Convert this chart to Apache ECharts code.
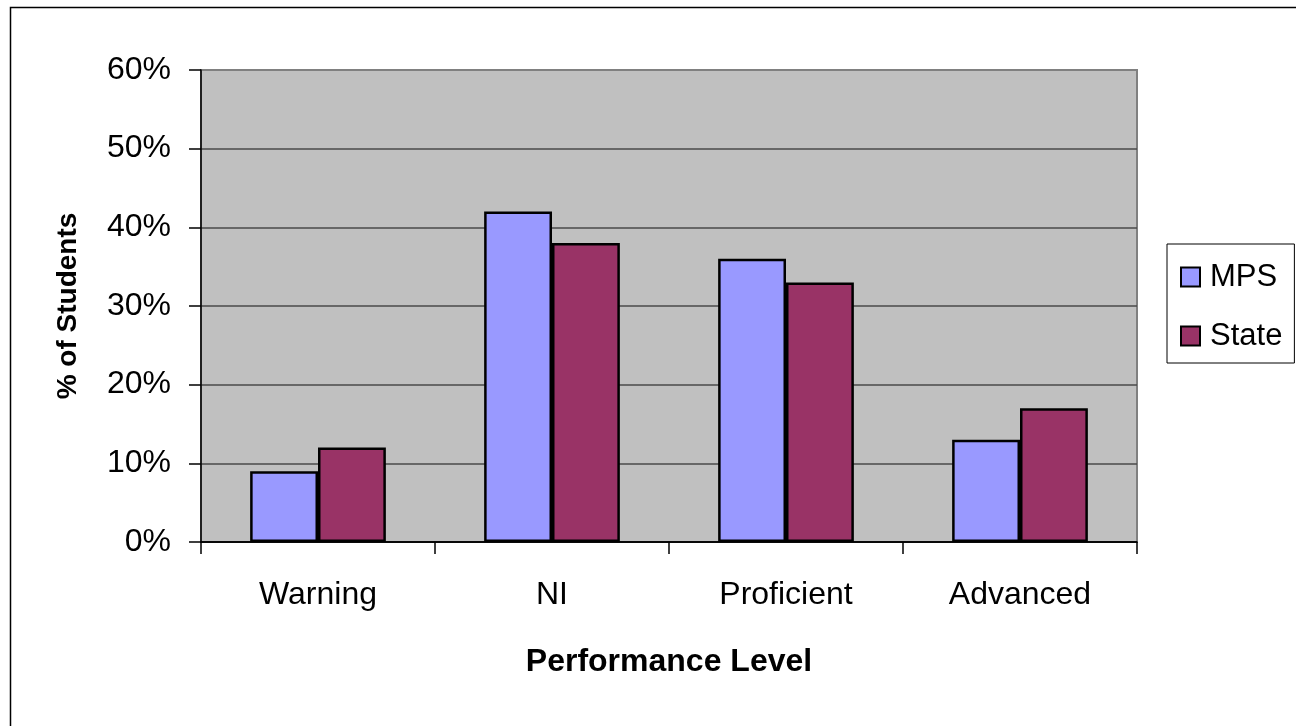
<!DOCTYPE html>
<html>
<head>
<meta charset="utf-8">
<script src="https://cdn.jsdelivr.net/npm/echarts@6/dist/echarts.min.js"></script>
<style>html,body{margin:0;padding:0;background:#fff;}#c{width:1296px;height:726px;}</style>
</head>
<body>
<div id="c"></div>
<script>
const categories = ['Warning', 'NI', 'Proficient', 'Advanced'];
const mpsValues = [9, 42, 36, 13];
const stateValues = [12, 38, 33, 17];
const seriesNames = ['MPS', 'State'];
const yTicks = [0, 10, 20, 30, 40, 50, 60];

const chart = echarts.init(document.getElementById('c'), null, {renderer: 'canvas'});
const font = 'Liberation Sans, Arial, sans-serif';
chart.setOption({
  animation: false,
  backgroundColor: '#fff',
  graphic: [{
    type: 'rect', z: 100, silent: true,
    shape: {x: 10.5, y: 7.5, width: 1400, height: 800},
    style: {fill: 'none', stroke: '#000', lineWidth: 1.5}
  }],
  grid: {
    left: 201, top: 70, right: 1296 - 1137, bottom: 726 - 542,
    show: true, backgroundColor: '#c0c0c0', borderColor: '#808080', borderWidth: 2
  },
  legend: {
    orient: 'vertical',
    left: 1167, top: 244,
    data: seriesNames,
    icon: 'rect',
    itemWidth: 19, itemHeight: 19, itemGap: 27,
    padding: [17, 12, 11, 13],
    backgroundColor: '#fff',
    borderColor: '#000', borderWidth: 1,
    textStyle: {fontFamily: font, fontSize: 31, lineHeight: 32, color: '#000', padding: [0, 0, 0, 5]},
    itemStyle: {borderColor: '#000', borderWidth: 2}
  },
  xAxis: {
    type: 'category',
    data: categories,
    name: 'Performance Level',
    nameLocation: 'middle',
    nameGap: 104,
    nameTextStyle: {fontFamily: font, fontSize: 32, fontWeight: 'bold', color: '#000'},
    axisLine: {lineStyle: {color: '#000', width: 1.5}},
    axisTick: {show: true, length: 12, lineStyle: {color: '#000', width: 1.5}},
    axisLabel: {fontFamily: font, fontSize: 32, color: '#000', margin: 37}
  },
  yAxis: {
    type: 'value',
    min: yTicks[0], max: yTicks[yTicks.length - 1], interval: 10,
    name: '% of Students',
    nameLocation: 'middle',
    nameGap: 119,
    nameTextStyle: {fontFamily: font, fontSize: 28, fontWeight: 'bold', color: '#000'},
    axisLine: {show: true, lineStyle: {color: '#000', width: 1.5}},
    axisTick: {show: true, length: 12, lineStyle: {color: '#000', width: 1.5}},
    axisLabel: {fontFamily: font, fontSize: 32, color: '#000', margin: 30, formatter: '{value}%'},
    splitLine: {show: true, lineStyle: {color: ['#000', '#4a4a4a', '#4a4a4a', '#4a4a4a', '#4a4a4a', '#4a4a4a', '#808080'], width: 1.5}}
  },
  series: [
    {
      name: seriesNames[0], type: 'bar', data: mpsValues,
      barWidth: '29%', barGap: '0%',
      itemStyle: {color: '#9999ff', borderColor: '#000', borderWidth: 2.5}
    },
    {
      name: seriesNames[1], type: 'bar', data: stateValues,
      barWidth: '29%', barGap: '0%',
      itemStyle: {color: '#993366', borderColor: '#000', borderWidth: 2.5}
    }
  ]
});
</script>
</body>
</html>
